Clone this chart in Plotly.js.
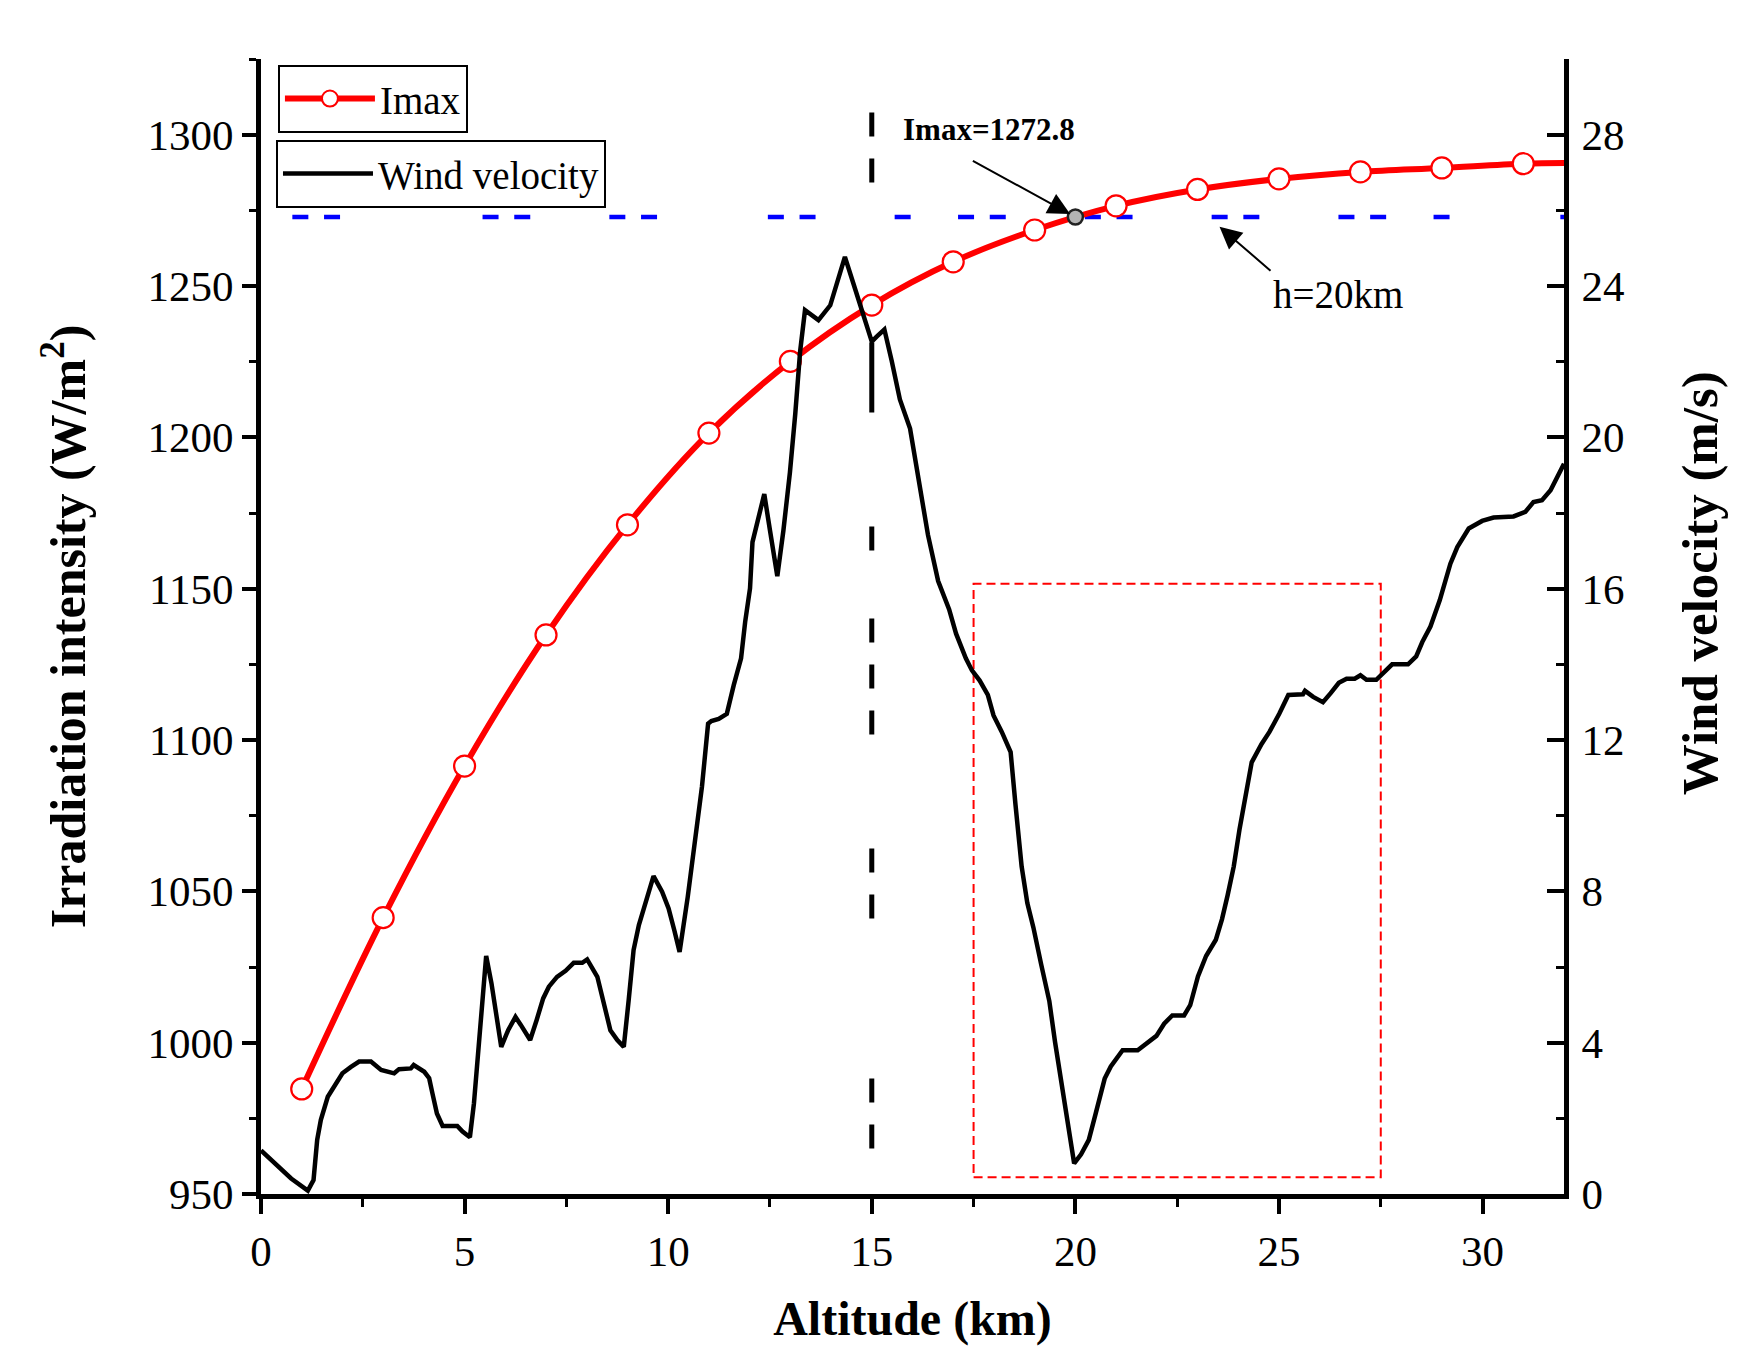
<!DOCTYPE html>
<html>
<head>
<meta charset="utf-8">
<script src="https://cdn.plot.ly/plotly-3.0.1.min.js"></script>
<style>
  html, body { margin: 0; padding: 0; background: #fff; }
  #chart { width: 1757px; height: 1365px; }
</style>
</head>
<body>
<div id="chart"></div>
<script>
// Imax curve (markers every 2 km, line runs on to 32 km)
let imaxAlt = [1, 3, 5, 7, 9, 11, 13, 15, 17, 19, 21, 23, 25, 27, 29, 31, 32];
let imaxVal = [984.7, 1041.3, 1091.4, 1134.7, 1171.1, 1201.4, 1225.1, 1243.7, 1258.0,
               1268.5, 1276.5, 1281.9, 1285.4, 1287.7, 1289.0, 1290.4, 1290.6];

// marked point at h = 20 km
let markAlt = [20];
let markVal = [1272.8];

// wind velocity profile (right axis)
let windAlt = [0.00, 0.45, 0.74, 1.15, 1.29, 1.38, 1.47, 1.64, 1.84, 2.00, 2.21, 2.41, 2.70, 2.95,
  3.27, 3.39, 3.68, 3.75, 4.01, 4.13, 4.21, 4.32, 4.46, 4.82, 4.95, 5.13, 5.23, 5.36, 5.44, 5.53,
  5.66, 5.79, 5.90, 6.07, 6.25, 6.38, 6.61, 6.77, 6.93, 7.07, 7.27, 7.48, 7.68, 7.89, 8.01, 8.26,
  8.42, 8.58, 8.75, 8.91, 9.03, 9.15, 9.28, 9.44, 9.64, 9.85, 10.01, 10.15, 10.28, 10.48, 10.67,
  10.83, 10.98, 11.06, 11.24, 11.44, 11.61, 11.79, 11.89, 12.01, 12.07, 12.18, 12.36, 12.50, 12.68,
  12.83, 12.99, 13.12, 13.24, 13.36, 13.69, 13.98, 14.10, 14.34, 14.55, 14.75, 15.00, 15.12, 15.31,
  15.49, 15.69, 15.94, 16.14, 16.38, 16.63, 16.90, 17.07, 17.31, 17.46, 17.65, 17.85, 17.99, 18.19,
  18.41, 18.53, 18.68, 18.82, 18.97, 19.16, 19.36, 19.50, 19.70, 19.85, 19.97, 20.14, 20.33, 20.50,
  20.58, 20.72, 20.87, 21.16, 21.53, 21.74, 21.99, 22.18, 22.38, 22.67, 22.82, 23.01, 23.21, 23.45,
  23.60, 23.74, 23.89, 24.03, 24.18, 24.33, 24.57, 24.77, 25.01, 25.23, 25.59, 25.64, 25.84, 26.08,
  26.27, 26.47, 26.66, 26.86, 27.00, 27.15, 27.39, 27.59, 27.78, 28.17, 28.37, 28.52, 28.72, 28.95,
  29.21, 29.38, 29.66, 29.99, 30.27, 30.76, 31.05, 31.25, 31.46, 31.67, 31.76, 31.88, 32.00];
let windSpeed = [1.15, 0.72, 0.41, 0.09, 0.37, 1.43, 1.96, 2.57, 2.92, 3.19, 3.36, 3.50, 3.50, 3.28,
  3.19, 3.30, 3.32, 3.41, 3.23, 3.06, 2.66, 2.13, 1.80, 1.80, 1.65, 1.50, 2.40, 4.16, 5.39, 6.29,
  5.57, 4.68, 3.89, 4.33, 4.68, 4.47, 4.07, 4.60, 5.17, 5.48, 5.74, 5.90, 6.11, 6.11, 6.20, 5.74,
  5.04, 4.33, 4.07, 3.89, 5.13, 6.45, 7.11, 7.72, 8.40, 7.99, 7.55, 6.97, 6.40, 7.85, 9.36,
  10.77, 12.43, 12.50, 12.56, 12.69, 13.45, 14.16, 15.12, 16.01, 17.23, 17.74, 18.50, 17.54, 16.33,
  17.54, 19.08, 20.61, 22.27, 23.36, 23.10, 23.49, 23.94, 24.77, 24.06, 23.36, 22.53, 22.66, 22.85,
  22.02, 21.00, 20.23, 18.95, 17.42, 16.20, 15.45, 14.81, 14.16, 13.84, 13.57, 13.19, 12.65, 12.22,
  11.68, 10.28, 8.66, 7.69, 7.04, 6.07, 5.10, 4.02, 2.73, 1.65, 0.81, 1.05, 1.43, 2.13,
  2.51, 3.05, 3.37, 3.80, 3.80, 3.97, 4.18, 4.50, 4.72, 4.72, 4.99, 5.75, 6.29, 6.72,
  7.26, 7.90, 8.66, 9.63, 10.49, 11.41, 11.89, 12.22, 12.70, 13.19, 13.21, 13.30, 13.14, 13.00,
  13.24, 13.51, 13.62, 13.62, 13.71, 13.59, 13.59, 13.78, 14.00, 14.00, 14.21, 14.59, 15.00, 15.70,
  16.66, 17.10, 17.59, 17.79, 17.88, 17.91, 18.03, 18.29, 18.34, 18.60, 18.78, 19.04, 19.30];

let serif = 'Liberation Serif, Times New Roman, serif';
let tickFont = {family: serif, size: 43, color: '#000'};
let boldFont = size => ({family: serif, size: size, color: '#000', weight: 'bold'});

let traces = [
    {
        x: imaxAlt, y: imaxVal, name: 'Imax',
        type: 'scatter', mode: 'lines+markers',
        line: {color: '#ff0000', width: 6, shape: 'spline'},
        marker: {
            symbol: 'circle', color: '#ffffff', opacity: 1,
            size: imaxAlt.map(a => a % 2 === 1 ? 21 : 0),
            line: {color: '#ff0000', width: imaxAlt.map(a => a % 2 === 1 ? 2.2 : 0)}
        },
        xaxis: 'x', yaxis: 'y', legend: 'legend'
    },
    {
        x: markAlt, y: markVal, type: 'scatter', mode: 'markers', showlegend: false,
        marker: {size: 15, color: '#b4b4b4', opacity: 1, line: {color: '#222', width: 2.5}},
        xaxis: 'x', yaxis: 'y'
    },
    {
        x: windAlt, y: windSpeed, name: 'Wind velocity',
        type: 'scatter', mode: 'lines',
        line: {color: '#000000', width: 4.5},
        xaxis: 'x', yaxis: 'y2', legend: 'legend2'
    }
];

let axisBase = () => ({
    showline: true, linewidth: 5, linecolor: '#000',
    showgrid: false, zeroline: false,
    tickcolor: '#000', tickwidth: 4, tickfont: tickFont
});

let legendBase = (x, y) => ({
    x: x, y: y, xanchor: 'left', yanchor: 'top',
    bgcolor: '#fff', bordercolor: '#000', borderwidth: 2,
    font: {family: serif, size: 39, color: '#000'},
    itemwidth: 90
});

let arrow = {showarrow: true, arrowhead: 2, arrowsize: 2.2, arrowwidth: 2, arrowcolor: '#000'};

let layout = {
    width: 1757, height: 1365,
    margin: {l: 261, r: 193, t: 59, b: 171},
    paper_bgcolor: '#fff', plot_bgcolor: '#fff',
    font: {family: serif, color: '#000'},
    xaxis: Object.assign(axisBase(), {
        range: [0, 32], tick0: 0, dtick: 5,
        ticks: 'outside', ticklen: 15,
        minor: {dtick: 2.5, ticks: 'outside', ticklen: 8, tickwidth: 3, tickcolor: '#000'},
        title: {text: 'Altitude (km)', font: boldFont(48), standoff: 29}
    }),
    xaxis2: Object.assign(axisBase(), {
        range: [0, 32], tick0: 0, dtick: 5, overlaying: 'x', side: 'top', anchor: 'y',
        ticks: 'inside', ticklen: 17, showticklabels: false,
        minor: {dtick: 2.5, ticks: 'inside', ticklen: 9, tickwidth: 3, tickcolor: '#000'}
    }),
    yaxis: Object.assign(axisBase(), {
        range: [950, 1325], tick0: 0, dtick: 50,
        ticks: 'outside', ticklen: 14,
        minor: {dtick: 25, ticks: 'outside', ticklen: 7, tickwidth: 3, tickcolor: '#000'},
        title: {text: 'Irradiation intensity (W/m<sup>2</sup>)', font: boldFont(50), standoff: 47}
    }),
    yaxis2: Object.assign(axisBase(), {
        range: [0, 30], tick0: 0, dtick: 4, overlaying: 'y', side: 'right', anchor: 'x',
        ticks: 'inside', ticklen: 17, ticklabelstandoff: 4,
        minor: {dtick: 2, ticks: 'inside', ticklen: 8, tickwidth: 3, tickcolor: '#000'}
    }),
    legend: legendBase(0.013, 0.995),
    legend2: legendBase(0.0115, 0.929),
    shapes: [
        // h = 15 km marker line
        {type: 'line', xref: 'x', yref: 'y', x0: 15, x1: 15, y0: 1307.3, y1: 964.5, layer: 'below',
         line: {color: '#000', width: 5,
                dash: '24px,22px,24px,160px,70px,114px,24px,68px,24px,22px,24px,22px,24px,114px,24px,22px,24px,160px,24px,22px,24px,300px'}},
        // Imax = 1272.8 level
        {type: 'line', xref: 'x', yref: 'y', x0: 0.77, x1: 32, y0: markVal[0], y1: markVal[0], layer: 'below',
         line: {color: '#0000ff', width: 4.5,
                dash: '16px,15.7px,16px,142.5px,16px,15.7px,16px,79.1px,16px,15.7px,16px,110.8px,16px,15.7px,16px,79.1px,16px,47.4px,16px,15.7px,16px,79.1px,16px,15.7px,16px,79.1px,16px,15.7px,16px,79.1px,16px,15.7px,16px,47.4px,16px,110.8px,16px,300px'}},
        // highlighted region
        {type: 'rect', xref: 'x', yref: 'y', x0: 17.5, x1: 27.5, y0: 955.5, y1: 1151.6, layer: 'below',
         line: {color: '#ff0000', width: 2, dash: '9px,5px'}}
    ],
    annotations: [
        {xref: 'x', yref: 'y', x: 17.88, y: 1301.8, showarrow: false, text: 'Imax=1272.8',
         font: boldFont(31)},
        Object.assign({xref: 'x', yref: 'y', x: markAlt[0], y: markVal[0], ax: -104, ay: -57,
                       standoff: 6, text: ''}, arrow),
        Object.assign({xref: 'x', yref: 'y', x: 23.54, y: 1269.6, ax: 51, ay: 44,
                       xanchor: 'left', yanchor: 'top', text: 'h=20km',
                       font: {family: serif, size: 39, color: '#000'}}, arrow),
        {xref: 'paper', yref: 'paper', x: 1.105, y: 0.538, xanchor: 'center', yanchor: 'middle',
         showarrow: false, textangle: -90, text: 'Wind velocity (m/s)', font: boldFont(51)}
    ]
};

Plotly.newPlot('chart', traces, layout, {displayModeBar: false, staticPlot: true});
</script>
</body>
</html>
